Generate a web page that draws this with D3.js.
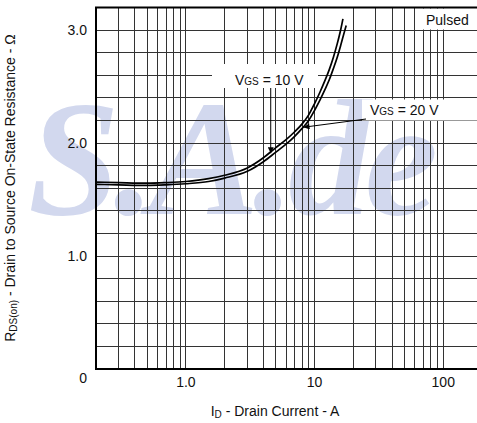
<!DOCTYPE html>
<html>
<head>
<meta charset="utf-8">
<script src="https://cdn.jsdelivr.net/npm/d3@7"></script>
<style>
  body { margin: 0; background: #fff; }
  svg text { font-family: "Liberation Sans", Arial, sans-serif; fill: #111; }
</style>
</head>
<body>
<div id="chart"></div>
<script>
// drain current (A) and on-resistance (ohm)
const currentVgs10 = [0.2, 0.3, 0.5, 0.7, 1, 1.5, 2, 3, 4, 5, 6, 7, 8, 9, 10, 11, 12, 13, 14, 15, 16, 16.6];
const rdsVgs10 = [1.655, 1.65, 1.645, 1.65, 1.66, 1.685, 1.715, 1.78, 1.87, 1.96, 2.03, 2.10, 2.17, 2.25, 2.35, 2.45, 2.55, 2.65, 2.76, 2.88, 3.01, 3.10];
const currentVgs20 = [0.2, 0.3, 0.5, 0.7, 1, 1.5, 2, 3, 4, 5, 6, 7, 8, 9, 10, 11, 12, 13, 14, 15, 16, 17, 17.6];
const rdsVgs20 = [1.635, 1.63, 1.625, 1.63, 1.64, 1.66, 1.69, 1.75, 1.835, 1.92, 1.99, 2.06, 2.13, 2.20, 2.29, 2.38, 2.47, 2.56, 2.66, 2.76, 2.87, 2.98, 3.04];

const xTickValues = [1, 10, 100];
const xTickLabels = ['1.0', '10', '100'];
const yTickValues = [0, 1, 2, 3];
const yTickLabels = ['0', '1.0', '2.0', '3.0'];

// where the two label arrows touch the curves (A, ohm)
const arrowTip10 = [4.56, 1.91];
const arrowTip20 = [8.2, 2.14];

const width = 477;
const height = 423;
const plot = { left: 96, right: 482, top: 7.5, bottom: 369 };

const svg = d3.select('#chart').
append('svg').
attr('width', width).
attr('height', height);

const x = d3.scaleLog().
domain([0.2, 200]).
range([plot.left, plot.right]);

const y = d3.scaleLinear().
domain([0, 3.2]).
range([plot.bottom, plot.top]);

// watermark behind everything
svg.append('text').
attr('x', 28).
attr('y', 214).
style('font-family', '"Liberation Serif", serif').
style('font-weight', 'bold').
style('font-style', 'italic').
style('font-size', '165px').
style('letter-spacing', '-6px').
style('fill', '#d2d8ee').
text('S.A.de');

// grid
const grid = svg.append('g').
attr('stroke', '#333').
attr('stroke-width', 1).
attr('shape-rendering', 'crispEdges');

grid.selectAll('line.v').
data(x.ticks()).
enter().
append('line').
attr('class', 'v').
attr('x1', d => x(d)).
attr('x2', d => x(d)).
attr('y1', plot.top).
attr('y2', plot.bottom);

grid.selectAll('line.h').
data(d3.range(1, 16).map(i => i * 0.2)).
enter().
append('line').
attr('class', 'h').
attr('x1', plot.left).
attr('x2', plot.right).
attr('y1', d => y(d)).
attr('y2', d => y(d));

// white boxes behind the labels
const boxes = [
  { x: 212, y: 64, w: 106, h: 24 },
  { x: 362, y: 99.5, w: 120, h: 21 },
  { x: 423, y: 8.5, w: 60, h: 21 }];

svg.append('g').
selectAll('rect').
data(boxes).
enter().
append('rect').
attr('x', d => d.x).
attr('y', d => d.y).
attr('width', d => d.w).
attr('height', d => d.h).
attr('fill', '#fff');

// curves
const line = d3.line().
x(d => x(d[0])).
y(d => y(d[1])).
curve(d3.curveMonotoneX);

[[currentVgs10, rdsVgs10], [currentVgs20, rdsVgs20]].forEach(function (s) {
  svg.append('path').
  datum(d3.zip(s[0], s[1])).
  attr('fill', 'none').
  attr('stroke', '#000').
  attr('stroke-width', 1.7).
  attr('d', line);
});

// arrow heads
svg.append('defs').
append('marker').
attr('id', 'arrow').
attr('viewBox', '0 0 10 10').
attr('refX', 10).
attr('refY', 5).
attr('markerWidth', 9).
attr('markerHeight', 6).
attr('markerUnits', 'userSpaceOnUse').
attr('orient', 'auto').
append('path').
attr('d', 'M0,0 L10,5 L0,10 z').
attr('fill', '#000');

svg.append('line').
attr('x1', x(arrowTip10[0])).
attr('y1', 88).
attr('x2', x(arrowTip10[0])).
attr('y2', y(arrowTip10[1])).
attr('stroke', '#000').
attr('stroke-width', 1).
attr('marker-end', 'url(#arrow)');

svg.append('line').
attr('x1', 366).
attr('y1', 119).
attr('x2', x(arrowTip20[0])).
attr('y2', y(arrowTip20[1])).
attr('stroke', '#000').
attr('stroke-width', 1).
attr('marker-end', 'url(#arrow)');

// curve labels
function vgsLabel(px, py, value) {
  const t = svg.append('text').
  attr('x', px).
  attr('y', py).
  style('font-size', '14px');
  t.append('tspan').text('V');
  t.append('tspan').style('font-size', '10px').text('GS');
  t.append('tspan').text(' = ' + value + ' V');
}
vgsLabel(235, 85, 10);
vgsLabel(370, 115, 20);

svg.append('text').
attr('x', 426).
attr('y', 25).
style('font-size', '14px').
text('Pulsed');

// frame
svg.append('path').
attr('d', 'M' + plot.right + ',' + plot.top + 'H' + plot.left + 'V' + plot.bottom + 'H' + plot.right).
attr('fill', 'none').
attr('stroke', '#000').
attr('stroke-width', 2);

// tick labels
svg.append('g').
selectAll('text').
data(xTickValues).
enter().
append('text').
attr('x', d => x(d)).
attr('y', 387).
attr('text-anchor', 'middle').
style('font-size', '14px').
text((d, i) => xTickLabels[i]);

svg.append('g').
selectAll('text').
data(yTickValues).
enter().
append('text').
attr('x', 87).
attr('y', d => y(d) + (d === 0 ? 14 : 5)).
attr('text-anchor', 'end').
style('font-size', '14px').
text((d, i) => yTickLabels[i]);

// axis titles
const xTitle = svg.append('text').
attr('x', 275).
attr('y', 416).
attr('text-anchor', 'middle').
style('font-size', '14px');
xTitle.append('tspan').text('I');
xTitle.append('tspan').style('font-size', '10px').attr('dy', 2).text('D');
xTitle.append('tspan').attr('dy', -2).text(' - Drain Current - A');

const yTitle = svg.append('text').
attr('transform', 'translate(15,' + 188 + ') rotate(-90)').
attr('text-anchor', 'middle').
style('font-size', '14px');
yTitle.append('tspan').text('R');
yTitle.append('tspan').style('font-size', '10px').attr('dy', 2).text('DS(on)');
yTitle.append('tspan').attr('dy', -2).text(' - Drain to Source On-State Resistance - Ω');
</script>
</body>
</html>
